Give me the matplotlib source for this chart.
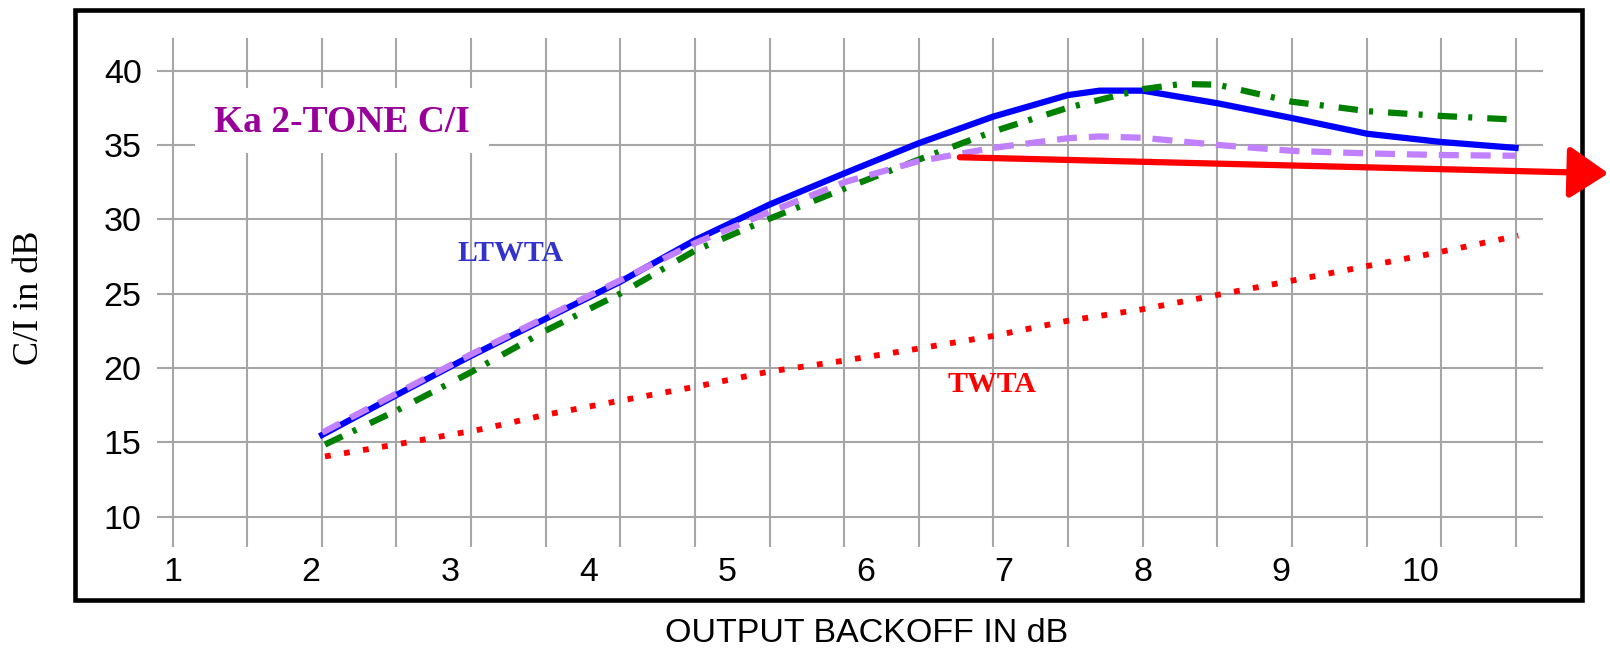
import numpy as np
import matplotlib
matplotlib.use('Agg')
import matplotlib.pyplot as plt
from matplotlib.patches import Rectangle

plt.rcParams['font.family'] = ['Liberation Sans', 'DejaVu Sans']

# --- data (output backoff in dB -> C/I in dB) ---
ltwta_x = [2.08, 2.62, 3.15, 3.69, 4.23, 4.77, 5.31, 5.85, 6.38,
           6.92, 7.46, 7.69, 8.00, 8.54, 9.08, 9.62, 10.15, 10.69]
ltwta_ci = [15.5, 18.2, 20.8, 23.3, 25.8, 28.6, 31.0, 33.1, 35.1,
            36.9, 38.35, 38.65, 38.65, 37.8, 36.8, 35.75, 35.2, 34.8]

purple_x = [2.08, 2.62, 3.15, 3.69, 4.23, 4.77, 5.31, 5.85, 6.38,
            6.92, 7.46, 7.69, 8.00, 8.54, 9.08, 9.62, 10.15, 10.69]
purple_ci = [15.65, 18.3, 20.9, 23.4, 25.9, 28.4, 30.5, 32.5, 33.9,
             34.8, 35.45, 35.57, 35.48, 35.0, 34.6, 34.43, 34.32, 34.27]

green_x = [2.10, 2.62, 3.15, 3.69, 4.23, 4.77, 5.31, 5.85, 6.38,
           6.92, 7.46, 8.00, 8.28, 8.54, 9.08, 9.43, 9.62, 10.15, 10.69]
green_ci = [14.85, 17.15, 19.7, 22.5, 25.0, 27.9, 30.05, 32.07, 34.0,
            35.9, 37.5, 38.75, 39.1, 39.05, 37.9, 37.5, 37.27, 36.95, 36.7]

twta_x = [2.10, 2.64, 3.24, 3.69, 4.23, 4.78, 5.30, 5.85, 6.38,
          6.92, 7.45, 8.00, 8.53, 9.06, 9.60, 10.13, 10.71]
twta_ci = [14.05, 14.9, 15.9, 16.85, 17.8, 18.75, 19.75, 20.5, 21.3,
           22.15, 23.16, 23.95, 24.9, 25.84, 26.82, 27.77, 28.9]

x_ticks = [1, 2, 3, 4, 5, 6, 7, 8, 9, 10]
y_ticks = [10, 15, 20, 25, 30, 35, 40]

# gridlines are not aligned with the tick labels in the original (13 cells per 7 dB)
GRID_STEP = 7 / 13
v_grid = 1 + GRID_STEP * np.arange(19)

W, H = 1610, 650
fig = plt.figure(figsize=(W / 100, H / 100), dpi=100)
ax = fig.add_axes([157 / W, 1 - 547 / H, (1543 - 157) / W, (547 - 38) / H])
ax.set_xlim(0.888, 10.888)
ax.set_ylim(7.96, 42.19)
for s in ax.spines.values():
    s.set_visible(False)

grid_kw = dict(color='#a6a6a6', linewidth=1.5, zorder=1)
for gx in v_grid:
    ax.axvline(gx, **grid_kw)
for gy in y_ticks:
    ax.axhline(gy, **grid_kw)

ax.set_xticks(x_ticks)
ax.set_yticks(y_ticks)
ax.tick_params(axis='both', length=0, labelsize=24.5)
ax.tick_params(axis='x', pad=7)
ax.tick_params(axis='y', pad=11)

# curves
ax.plot(ltwta_x, ltwta_ci, color='#0000ff', linewidth=4.5, zorder=3,
        solid_joinstyle='round')
ax.plot(green_x, green_ci, color='#008000', linewidth=4.5, zorder=4,
        linestyle=(0, (3.1, 1.8, 0.65, 2.4)))
ax.plot(purple_x, purple_ci, color='#c080ff', linewidth=4.5, zorder=5,
        linestyle=(0, (3.2, 1.9)))
ax.plot(twta_x, twta_ci, color='#ff0000', linewidth=4.2, zorder=5,
        linestyle=(0, (1, 2.3)))

# red arrow
ax.annotate('', xy=(11.36, 33.09), xytext=(6.68, 34.17),
            arrowprops=dict(arrowstyle='-|>,head_length=2.4,head_width=1.6',
                            color='#ff0000', linewidth=4.5, shrinkA=0, shrinkB=0,
                            mutation_scale=10),
            annotation_clip=False, zorder=12)

# title box
ax.add_patch(Rectangle((1.162, 34.46), 3.284 - 1.162, 38.83 - 34.46,
                       facecolor='white', edgecolor='none', zorder=6))
ax.text(2.223, 36.5, 'Ka 2-TONE C/I', color='#990099', fontsize=27,
        fontweight='bold', family='Liberation Serif', ha='center',
        va='center', zorder=7)
ax.text(3.442, 27.72, 'LTWTA', color='#3333cc', fontsize=21.5,
        fontweight='bold', family='Liberation Serif', ha='center',
        va='center', zorder=7)
ax.text(6.912, 18.86, 'TWTA', color='#ff0000', fontsize=21.5,
        fontweight='bold', family='Liberation Serif', ha='center',
        va='center', zorder=7)

# outer frame
ax.add_patch(Rectangle((75 / W, 1 - 599.8 / H), (1581.7 - 75) / W,
                       (599.8 - 9.5) / H, transform=fig.transFigure,
                       fill=False, edgecolor='black', linewidth=3.3,
                       clip_on=False, zorder=10))

fig.text(30 / W, 1 - 298 / H, 'C/I in dB', rotation=90, fontsize=26,
         family='Liberation Serif', ha='center', va='center')
fig.text(867 / W, 1 - 633 / H, 'OUTPUT BACKOFF IN dB', fontsize=24.5,
         ha='center', va='center')

fig.savefig('out.png', dpi=100, facecolor='white')
